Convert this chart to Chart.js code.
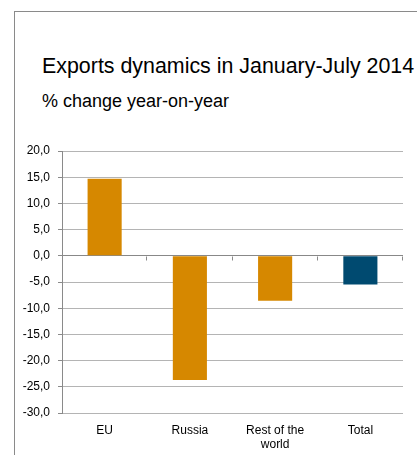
<!DOCTYPE html>
<html>
<head>
<meta charset="utf-8">
<script src="https://cdn.jsdelivr.net/npm/chart.js@4.4.1/dist/chart.umd.min.js"></script>
<style>
  html, body { margin: 0; background: #fff; overflow: hidden; }
  #wrap { position: relative; width: 417px; height: 455px; overflow: hidden; }
  #frame { position: absolute; left: 14px; top: 11px; width: 450px; height: 500px;
           border-left: 1px solid #8a8a8a; border-top: 1px solid #8a8a8a; }
  .ttl { position: absolute; left: 42px; font-family: "Liberation Sans", Arial, sans-serif; color: #000; white-space: nowrap; }
  #title { top: 54px; font-size: 21.4px; }
  #subtitle { top: 91px; font-size: 18px; }
  canvas { position: absolute; left: 0; top: 0; }
</style>
</head>
<body>
<div id="wrap">
  <div id="frame"></div>
  <div id="title" class="ttl">Exports dynamics in January-July 2014</div>
  <div id="subtitle" class="ttl">% change year-on-year</div>
  <canvas id="chart" width="417" height="455"></canvas>
</div>
<script>
// categories and % change y/y
var categories = ['EU', 'Russia', ['Rest of the', 'world'], 'Total'];
var changes = [14.7, -23.7, -8.6, -5.5];
var yTicks = [20, 15, 10, 5, 0, -5, -10, -15, -20, -25, -30];

var orange = '#D68800';
var blue = '#004A70';
var barColors = [orange, orange, orange, blue];

function fmt(v) {
  return v.toFixed(1).replace('.', ',');
}

// small tick marks on the zero line between categories
var zeroTicks = {
  id: 'zeroTicks',
  afterDatasetsDraw: function (chart) {
    var x = chart.scales.x, y = chart.scales.y;
    var y0 = Math.round(y.getPixelForValue(0)) + 0.5;
    var ctx = chart.ctx;
    ctx.save();
    ctx.strokeStyle = '#8a8a8a';
    ctx.lineWidth = 1;
    ctx.beginPath();
    for (var i = 1; i <= categories.length; i++) {
      var px = Math.round(x.left + (x.right - x.left) * i / categories.length) - 0.5;
      ctx.moveTo(px, y0);
      ctx.lineTo(px, y0 + 4);
    }
    ctx.stroke();
    ctx.restore();
  }
};

var ctx = document.getElementById('chart').getContext('2d');
new Chart(ctx, {
  type: 'bar',
  data: {
    labels: categories,
    datasets: [{
      data: changes,
      backgroundColor: barColors,
      borderWidth: 0,
      categoryPercentage: 1,
      barPercentage: 0.4
    }]
  },
  options: {
    responsive: false,
    animation: false,
    layout: { padding: { top: 151, right: 14, left: 0, bottom: 0 } },
    plugins: {
      legend: { display: false },
      tooltip: { enabled: false }
    },
    scales: {
      x: {
        grid: { display: false, drawTicks: false },
        border: { display: false },
        ticks: {
          color: '#000',
          padding: 10,
          maxRotation: 0,
          font: { family: 'Liberation Sans', size: 12 }
        },
        afterFit: function (s) { s.height = 42; }
      },
      y: {
        min: -30,
        max: 20,
        afterBuildTicks: function (s) {
          s.ticks = yTicks.map(function (v) { return { value: v }; });
        },
        grid: {
          color: function (c) { return c.tick && c.tick.value === 0 ? '#888888' : '#b4b4b4'; },
          tickLength: 4,
          tickColor: '#8a8a8a'
        },
        border: { color: '#8a8a8a' },
        ticks: {
          color: '#000',
          padding: 8,
          font: { family: 'Liberation Sans', size: 12 },
          callback: function (v) { return fmt(v); }
        },
        afterFit: function (s) { s.width = 62; }
      }
    }
  },
  plugins: [zeroTicks]
});
</script>
</body>
</html>
